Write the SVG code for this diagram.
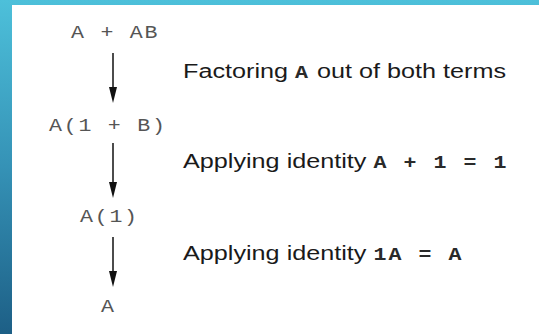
<svg xmlns="http://www.w3.org/2000/svg" width="539" height="334" viewBox="0 0 539 334">
<defs>
<linearGradient id="bg" x1="0" y1="0" x2="0" y2="1">
<stop offset="0" stop-color="#4dc0da"/>
<stop offset="0.5" stop-color="#3592b6"/>
<stop offset="1" stop-color="#1d5f86"/>
</linearGradient>
<style>
.expr{font-family:"Liberation Mono",monospace;font-size:18px;fill:#555;letter-spacing:1.45px}
.lbl{font-family:"Liberation Sans",Arial,sans-serif;font-size:21px;fill:#1a1a1a}
.code{font-family:"Liberation Mono",monospace;font-size:18px;font-weight:bold;fill:#2a2a2a;letter-spacing:1.7px}
.conn{stroke:#111;stroke-width:1.5;fill:none}
.head{fill:#111}
</style>
</defs>
<rect x="0" y="0" width="539" height="334" fill="url(#bg)"/>
<rect x="12" y="5" width="527" height="329" fill="#ffffff"/>
<g id="connectors">
<line class="conn" x1="113" y1="53" x2="113" y2="89"/>
<path class="head" d="M109,87 L117,87 L113,103 Z"/>
<line class="conn" x1="113" y1="143" x2="113" y2="184"/>
<path class="head" d="M109,182 L117,182 L113,198 Z"/>
<line class="conn" x1="113" y1="237" x2="113" y2="273"/>
<path class="head" d="M109,271 L117,271 L113,287 Z"/>
</g>
<g id="n1" transform="translate(71,38) scale(1.2,1)"><text class="expr" x="0" y="0">A + AB</text></g>
<g id="n2" transform="translate(49,131) scale(1.2,1)"><text class="expr" x="0" y="0">A(1 + B)</text></g>
<g id="n3" transform="translate(80,222) scale(1.2,1)"><text class="expr" x="0" y="0">A(1)</text></g>
<g id="n4" transform="translate(101,312) scale(1.2,1)"><text class="expr" x="0" y="0">A</text></g>
<g id="l1" transform="translate(183,78) scale(1.2,1)"><text class="lbl" x="0" y="0">Factoring <tspan class="code">A</tspan> out of both terms</text></g>
<g id="l2" transform="translate(183,168) scale(1.2,1)"><text class="lbl" x="0" y="0">Applying identity <tspan class="code">A + 1 = 1</tspan></text></g>
<g id="l3" transform="translate(183,260) scale(1.2,1)"><text class="lbl" x="0" y="0">Applying identity <tspan class="code">1A = A</tspan></text></g>
</svg>
